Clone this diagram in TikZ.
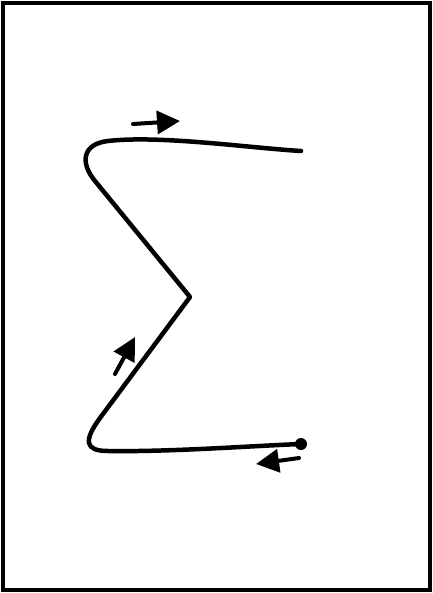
\documentclass[tikz,border=0pt]{standalone}
\usetikzlibrary{arrows.meta}
\begin{document}
\begin{tikzpicture}[x=1pt,y=-1pt,
  frame/.style={line width=3.5pt},
  curve/.style={line width=4.5pt,line cap=round,line join=round},
  flow/.style={line width=4pt,line cap=round,-{Triangle[length=23pt,width=23pt]}}]
\useasboundingbox (0,0) rectangle (432,593);
\draw[frame] (3,3) rectangle (430,590);
% sigma curve
\coordinate (topend) at (301,151);
\coordinate (mid) at (190,297);
\coordinate (botend) at (301,444);
\draw[curve] (topend) .. controls (250,148) and (160,135) .. (108,141)
  .. controls (82,144) and (80,163) .. (95,181) -- (mid)
  -- (100,418) .. controls (84,440) and (84,451) .. (108,451)
  .. controls (170,452) and (250,446) .. (botend);
\fill (botend) circle (6);
% arrows
\coordinate (a1s) at (133,124);
\coordinate (a1e) at (180,121);
\coordinate (a2s) at (115,374);
\coordinate (a2e) at (135,337);
\coordinate (a3s) at (299,458);
\coordinate (a3e) at (256,464);
\draw[flow] (a1s) -- (a1e);
\draw[flow] (a2s) -- (a2e);
\draw[flow] (a3s) -- (a3e);
\end{tikzpicture}
\end{document}
